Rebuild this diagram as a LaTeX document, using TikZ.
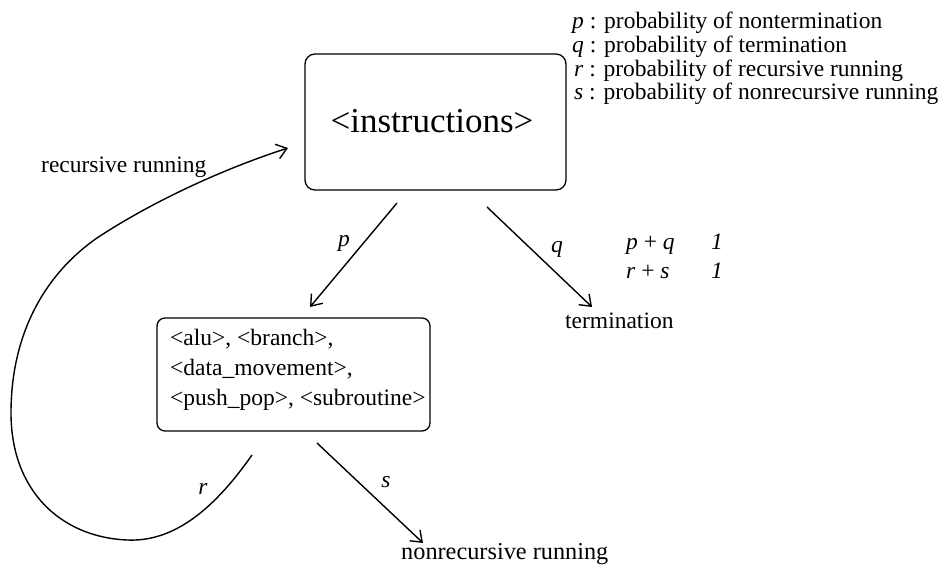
\documentclass[tikz,border=0pt]{standalone}
\usepackage{fontspec}
\setmainfont{Liberation Serif}
\usetikzlibrary{arrows.meta}
\begin{document}
\begin{tikzpicture}[x=1pt,y=-1pt,
  txt/.style={inner sep=0pt, font=\fontsize{23.5}{30}\selectfont},
  lbl/.style={txt, anchor=base west},
  big/.style={lbl, font=\fontsize{24.3}{30}\selectfont},
  box/.style={draw, line width=1.3pt, rounded corners=10pt},
  arr/.style={line width=1.4pt, -{Straight Barb[length=10pt,width=15pt,line width=1.4pt]}}]
\useasboundingbox (0,0) rectangle (948,569);

% the two blocks
\node[box, minimum width=261pt, minimum height=136pt] (ins) at (435.5,122) {};
\node[txt, font=\fontsize{35}{40}\selectfont] (instxt) at (432,121) {<instructions>};
\node[box, rounded corners=8pt, minimum width=273pt, minimum height=113pt] (ops) at (293.5,374.5) {};
\node[lbl] (ops1) at (170,345) {<alu>, <branch>,};
\node[lbl] (ops2) at (170,375) {<data\_movement>,};
\node[lbl] (ops3) at (170,405) {<push\_pop>, <subroutine>};

% outcome labels
\node[lbl] (term) at (565,329) {termination};
\node[big] (nonrec) at (401,559) {nonrecursive running};
\node[lbl] (rec) at (41,173) {recursive running};

% legend
\node[lbl] (leg1) at (572,29) {\textit{p} : probability of nontermination};
\node[lbl] (leg2) at (572,53) {\textit{q} : probability of termination};
\node[lbl] (leg3) at (574,77) {\textit{r} : probability of recursive running};
\node[lbl] (leg4) at (574,100) {\textit{s} : probability of nonrecursive running};

% sums
\node[lbl] (sum1) at (626,250) {\textit{p} + \textit{q}};
\node[lbl] (one1) at (711,250) {\textit{1}};
\node[lbl] (sum2) at (626,279) {\textit{r} + \textit{s}};
\node[lbl] (one2) at (711,279) {\textit{1}};

% arrow end points
\coordinate (pA) at (397,203);
\coordinate (pB) at (310,307);
\coordinate (qA) at (487,207);
\coordinate (qB) at (592,307);
\coordinate (sA) at (317,443);
\coordinate (sB) at (423,543);
\coordinate (rA) at (252,455);
\coordinate (rB) at (288,148);

\draw[arr] (pA) -- (pB);
\draw[arr] (qA) -- (qB);
\draw[arr] (sA) -- (sB);
\node[txt] (plbl) at (344,243) {\textit{p}};
\node[txt] (qlbl) at (557,249) {\textit{q}};
\node[txt] (slbl) at (386,482) {\textit{s}};

% recursion loop back to the instruction block
\draw[arr] (rA) .. controls (210,515) and (170,542) .. (127,540)
  .. controls (60,537) and (11,490) .. (11,413)
  .. controls (11,330) and (48,272) .. (97,238)
  .. controls (150,203) and (220,170) .. (rB);
\node[txt] (rlbl) at (203,489) {\textit{r}};
\end{tikzpicture}
\end{document}
